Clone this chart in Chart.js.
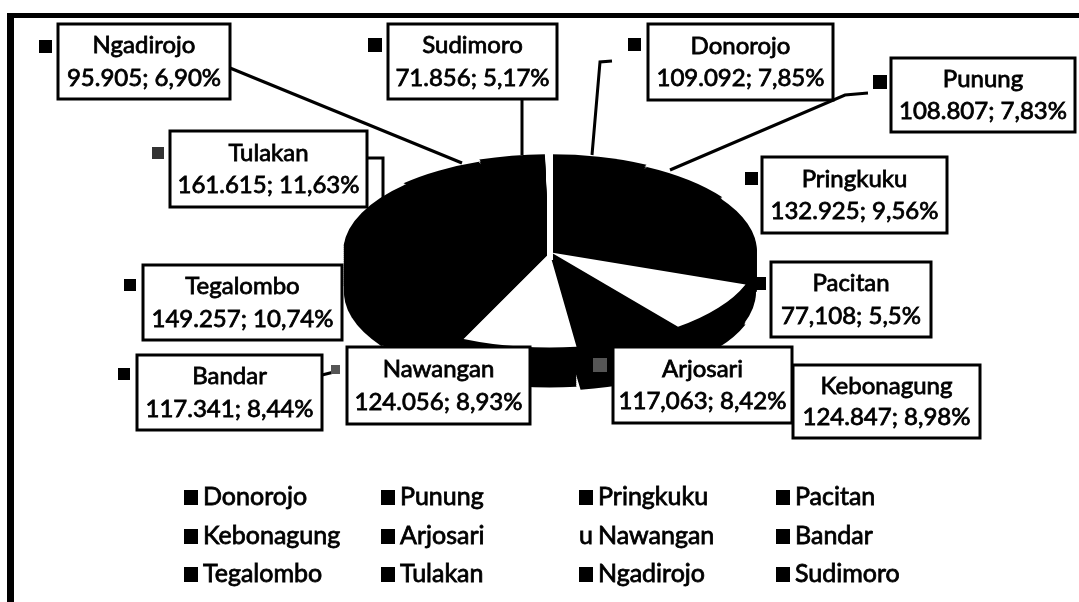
<!DOCTYPE html>
<html>
<head>
<meta charset="utf-8">
<title>Pie</title>
<script src="https://cdn.jsdelivr.net/npm/chart.js@4"></script>
<style>
html, body { margin: 0; padding: 0; background: #fff; }
canvas { display: block; }
</style>
</head>
<body>
<canvas id="pieChart" width="1079" height="602"></canvas>
<script>
const districts = ['Donorojo', 'Punung', 'Pringkuku', 'Pacitan', 'Kebonagung', 'Arjosari', 'Nawangan', 'Bandar', 'Tegalombo', 'Tulakan', 'Ngadirojo', 'Sudimoro'];
const values = [109092, 108807, 132925, 77108, 124847, 117063, 124056, 117341, 149257, 161615, 95905, 71856];
const valueLabels = ['109.092', '108.807', '132.925', '77,108', '124.847', '117,063', '124.056', '117.341', '149.257', '161.615', '95.905', '71.856'];
const percentLabels = ['7,85%', '7,83%', '9,56%', '5,5%', '8,98%', '8,42%', '8,93%', '8,44%', '10,74%', '11,63%', '6,90%', '5,17%'];
const legendKeys = ['■', '■', '■', '■', '■', '■', 'u', '■', '■', '■', '■', '■'];

// styles and layout, same order as districts
const sliceColors = ['#000', '#000', '#000', '#000', '#fff', '#000', '#fff', '#000', '#000', '#000', '#000', '#000'];
const sliceOffsets = [30, 14, 4, 0, 8, 38, 12, 0, 0, 4, 14, 28];
// left, top, right, bottom of each label box
const boxes = [
    [648, 24, 833, 100], [891, 58, 1075, 132], [762, 157, 947, 233], [771, 262, 931, 337],
    [793, 365, 980, 438], [613, 347, 792, 423], [347, 347, 530, 424], [137, 355, 322, 430],
    [143, 265, 342, 340], [170, 131, 367, 207], [58, 24, 230, 99], [388, 24, 557, 99]
];
// left, top, size and colour of the small key next to each box (Kebonagung's sits behind Arjosari)
const keys = [
    [628, 38, 13, '#000'], [873, 75, 14, '#000'], [745, 172, 13, '#000'], [753, 277, 13, '#000'],
    null, [593, 358, 14, '#555'], [331, 365, 9, '#555'], [118, 368, 12, '#000'],
    [124, 279, 12, '#000'], [152, 147, 12, '#333'], [39, 40, 13, '#000'], [368, 38, 14, '#000']
];
const leaders = [
    [[612, 61], [600, 62], [592, 155]],
    [[868, 93], [845, 95], [670, 170]],
    [], [], [], [], [],
    [[322, 375], [334, 372]],
    [],
    [[367, 158], [383, 158], [383, 203]],
    [[230, 68], [462, 163]],
    [[522, 99], [522, 155]]
];
const legendCols = [184, 381, 579, 776];
const legendRows = [497, 536, 574];

const labelFont = '24px Lato';
const legendFont = '25px Lato';
const pieCx = 550, pieCy = 252, pieRx = 206, pieRy = 94, pieDepth = 40;

function inkText(ctx, txt, x, y) {
    // scan looks heavier than regular weight
    ctx.fillText(txt, x, y);
    ctx.lineWidth = 0.8;
    ctx.strokeText(txt, x, y);
}

const ellipsePlugin = {
    id: 'ellipse',
    beforeDatasetsDraw(chart) {
        const ctx = chart.ctx;
        const arcs = chart.getDatasetMeta(0).data;
        const r = arcs[0].outerRadius;
        const sx = pieRx / r, sy = pieRy / r;
        // side wall of the tilted pie
        for (let d = pieDepth; d > 0; d -= 2) {
            ctx.save();
            ctx.translate(pieCx, pieCy + d);
            ctx.scale(sx, sy);
            ctx.translate(-arcs[0].x, -arcs[0].y);
            arcs.forEach(arc => {
                const o = arc.options;
                arc.options = Object.create(o);
                arc.options.backgroundColor = '#000';
                arc.options.borderColor = '#000';
                arc.draw(ctx);
                arc.options = o;
            });
            ctx.restore();
        }
        ctx.save();
        ctx.translate(pieCx, pieCy);
        ctx.scale(sx, sy);
        ctx.translate(-arcs[0].x, -arcs[0].y);
    },
    afterDatasetsDraw(chart) {
        const ctx = chart.ctx;
        ctx.restore();
        // white slit between Sudimoro and Donorojo
        ctx.fillStyle = '#fff';
        ctx.fillRect(pieCx - 3, pieCy - 110, 6, 118);
    }
};

const labelsPlugin = {
    id: 'boxLabels',
    afterDraw(chart) {
        const ctx = chart.ctx;
        ctx.save();

        // outer frame, the bottom edge is cut off in the scan
        ctx.fillStyle = '#000';
        ctx.fillRect(7, 13, 7, 589);
        ctx.fillRect(7, 13, 1072, 5);

        ctx.strokeStyle = '#000';
        leaders.forEach(line => {
            if (!line.length) return;
            ctx.lineWidth = 3;
            ctx.beginPath();
            line.forEach((p, i) => i ? ctx.lineTo(p[0], p[1]) : ctx.moveTo(p[0], p[1]));
            ctx.stroke();
        });

        ctx.textAlign = 'center';
        ctx.textBaseline = 'middle';
        ctx.font = labelFont;
        // Kebonagung has to go under Arjosari
        const order = [4, 0, 1, 2, 3, 5, 6, 7, 8, 9, 10, 11];
        order.forEach(i => {
            const [l, t, r, b] = boxes[i];
            ctx.fillStyle = '#fff';
            ctx.fillRect(l, t, r - l, b - t);
            ctx.lineWidth = 3;
            ctx.strokeRect(l, t, r - l, b - t);
            ctx.fillStyle = '#000';
            const mid = (l + r) / 2;
            inkText(ctx, districts[i], mid, t + (b - t) * 0.29);
            inkText(ctx, valueLabels[i] + '; ' + percentLabels[i], mid, t + (b - t) * 0.72);
            if (keys[i]) {
                ctx.fillStyle = keys[i][3];
                ctx.fillRect(keys[i][0], keys[i][1], keys[i][2], keys[i][2]);
                ctx.fillStyle = '#000';
            }
        });

        // legend, 4 columns by 3 rows
        ctx.textAlign = 'left';
        ctx.font = legendFont;
        districts.forEach((name, i) => {
            const x = legendCols[i % 4], y = legendRows[Math.floor(i / 4)];
            if (legendKeys[i] === '■') {
                ctx.fillRect(x, y - 7, 14, 15);
            } else {
                inkText(ctx, legendKeys[i], x, y);
            }
            inkText(ctx, name, x + 19, y);
        });
        ctx.restore();
    }
};

const pieCtx = document.getElementById('pieChart').getContext('2d');
new Chart(pieCtx, {
    type: 'pie',
    data: {
        labels: districts,
        datasets: [{
            data: values,
            backgroundColor: sliceColors,
            borderWidth: 0,
            offset: sliceOffsets,
            clip: false
        }]
    },
    options: {
        responsive: false,
        animation: false,
        rotation: -1,
        plugins: {
            legend: { display: false },
            tooltip: { enabled: false }
        }
    },
    plugins: [ellipsePlugin, labelsPlugin]
});
</script>
</body>
</html>
